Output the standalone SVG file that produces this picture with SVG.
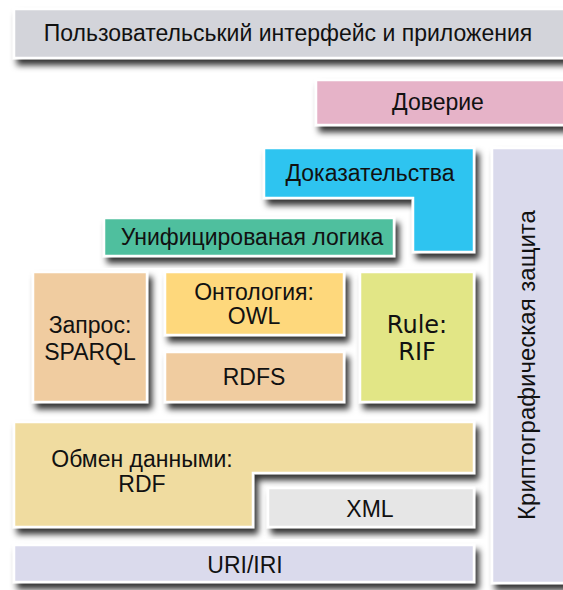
<svg xmlns="http://www.w3.org/2000/svg" width="563" height="590" viewBox="0 0 563 590">
<defs>
<filter id="sh" x="-10%" y="-10%" width="130%" height="140%">
<feDropShadow dx="4" dy="6" stdDeviation="3" flood-color="#000" flood-opacity="0.8"/>
</filter>
<style>
.b{stroke:#fff;stroke-width:2.5;filter:url(#sh)}
text{font-family:"Liberation Sans",Arial,sans-serif;font-size:23px;fill:#111;text-anchor:middle;dominant-baseline:central}
.v{font-family:"DejaVu Sans",Verdana,sans-serif;font-size:24px}
</style>
</defs>
<rect width="563" height="590" fill="#fff"/>
<g id="ui"><rect class="b" x="14" y="9" width="560" height="49" fill="#d3d4da"/><text x="288" y="33">Пользовательський интерфейс и приложения</text></g>
<g id="trust"><rect class="b" x="316" y="80" width="260" height="45" fill="#e6b3c8"/><text x="438" y="102">Доверие</text></g>
<g id="crypto"><rect class="b" x="492" y="148" width="80" height="435" fill="#dadaec"/><text transform="translate(526,365) rotate(-90)" style="font-size:24px">Криптографическая защита</text></g>
<g id="proof"><path class="b" d="M264,148 H474 V252 H413 V198 H264 Z" fill="#2ec4f0"/><text x="370" y="173">Доказательства</text></g>
<g id="logic"><rect class="b" x="104" y="218" width="290" height="38" fill="#50bf9e"/><text x="252" y="237">Унифицированая логика</text></g>
<g id="query"><rect class="b" x="33" y="272" width="114" height="130" fill="#f0cca0"/><text x="90" y="325">Запрос:</text><text x="90" y="352">SPARQL</text></g>
<g id="owl"><rect class="b" x="165" y="272" width="179" height="63" fill="#fed87c"/><text x="254" y="292">Онтология:</text><text x="254" y="316">OWL</text></g>
<g id="rdfs"><rect class="b" x="165" y="352" width="179" height="50" fill="#f0cca0"/><text x="254" y="377">RDFS</text></g>
<g id="rif"><rect class="b" x="360" y="272" width="114" height="130" fill="#e2e686"/><text class="v" x="417" y="325">Rule:</text><text class="v" x="417" y="352">RIF</text></g>
<g id="rdf"><path class="b" d="M14,422 H474 V473 H253 V527 H14 Z" fill="#f0dca0"/><text x="142" y="459">Обмен данными:</text><text x="142" y="484">RDF</text></g>
<g id="xml"><rect class="b" x="268" y="488" width="206" height="39" fill="#e6e6e6"/><text x="370" y="509">XML</text></g>
<g id="uri"><rect class="b" x="14" y="545" width="460" height="37" fill="#dadaec"/><text x="245" y="565">URI/IRI</text></g>
<g id="connectors"/>
</svg>
